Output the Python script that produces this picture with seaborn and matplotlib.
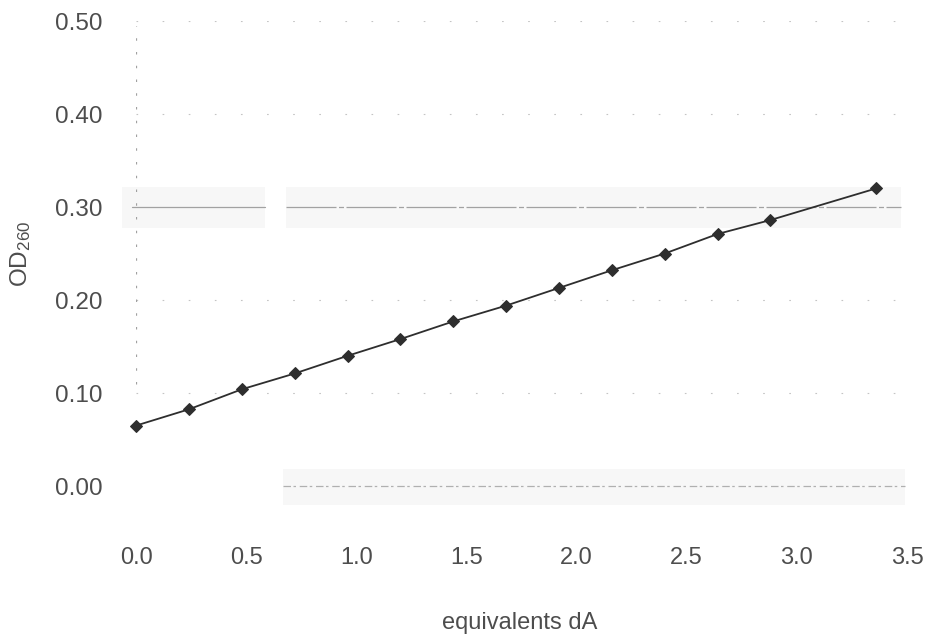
import matplotlib
matplotlib.use("Agg")
import matplotlib.pyplot as plt
import seaborn as sns
import pandas as pd

# Titration: absorbance at 260 nm versus equivalents of dA added
equiv_dA = [0.00, 0.24, 0.48, 0.72, 0.96, 1.20, 1.44, 1.68, 1.92, 2.16, 2.40, 2.64, 2.88, 3.36]
od260 = [0.065, 0.0825, 0.104, 0.121, 0.140, 0.158, 0.177, 0.194, 0.213, 0.232, 0.250, 0.271, 0.286, 0.320]

x_ticks = [0.0, 0.5, 1.0, 1.5, 2.0, 2.5, 3.0, 3.5]
y_ticks = [0.0, 0.1, 0.2, 0.3, 0.4, 0.5]

df = pd.DataFrame({"equiv": equiv_dA, "od": od260})

sns.set_theme(style="white")
plt.rcParams["font.family"] = ["Liberation Sans", "DejaVu Sans"]
plt.rcParams["mathtext.default"] = "regular"

text_color = "#4d4d4d"

fig = plt.figure(figsize=(9.28, 6.37), dpi=100)
ax = fig.add_axes([0.1466, 0.237, 0.8308, 0.730])

# faint, broken gridlines
for yv in y_ticks:
    if yv in (0.0, 0.3):
        continue
    ax.axhline(yv, color="#c4c4c4", lw=0.8, ls=(0, (1.5, 22)), zorder=0)

# light bands and grey rules around 0.30 and 0.00
ax.axhspan(0.277, 0.322, xmin=-0.018, xmax=0.167, color="#f7f7f7", lw=0, zorder=0, clip_on=False)
ax.axhspan(0.277, 0.322, xmin=0.195, xmax=0.992, color="#f7f7f7", lw=0, zorder=0, clip_on=False)
ax.axhline(0.3, xmin=-0.005, xmax=0.167, color="#a2a2a2", lw=0.9, zorder=0.5, clip_on=False)
ax.axhline(0.3, xmin=0.195, xmax=0.992, color="#a2a2a2", lw=0.9, ls=(0, (40, 2, 4, 2)),
           zorder=0.5, clip_on=False)
ax.axhspan(-0.020, 0.018, xmin=0.19, xmax=0.997, color="#f7f7f7", lw=0, zorder=0, clip_on=False)
ax.axhline(0.0, xmin=0.19, xmax=0.997, color="#b0b0b0", lw=0.9, ls=(0, (6, 2, 2, 3)),
           zorder=0.5, clip_on=False)
ax.axvline(0.0, ymin=0.22, ymax=0.99, color="#a0a0a0", lw=0.9, ls=(0, (2, 9)), zorder=0.5)

sns.lineplot(data=df, x="equiv", y="od", ax=ax, color="#2e2e2e", linewidth=1.3,
             marker="D", markersize=6.5, markeredgecolor="#2e2e2e", markerfacecolor="#2e2e2e",
             zorder=3, clip_on=False)

ax.set_xlim(0, 3.5)
ax.set_ylim(0, 0.5)
ax.set_xticks(x_ticks)
ax.set_yticks(y_ticks)
ax.set_xticklabels([f"{v:.1f}" for v in x_ticks])
ax.set_yticklabels([f"{v:.2f}" for v in y_ticks])
ax.tick_params(axis="x", length=0, pad=44, labelsize=17, labelcolor=text_color)
ax.tick_params(axis="y", length=0, pad=24, labelsize=17.5, labelcolor=text_color)

for s in ax.spines.values():
    s.set_visible(False)
ax.grid(False)

ax.set_xlabel("equivalents dA", fontsize=17, color=text_color)
ax.set_ylabel("OD$_{260}$", fontsize=17.5, color=text_color)
ax.xaxis.set_label_coords(0.497, -0.3075)
ax.xaxis.label.set_va("baseline")
ax.yaxis.set_label_coords(-0.134, 0.5)

fig.savefig("out.png", dpi=100, facecolor="white")
